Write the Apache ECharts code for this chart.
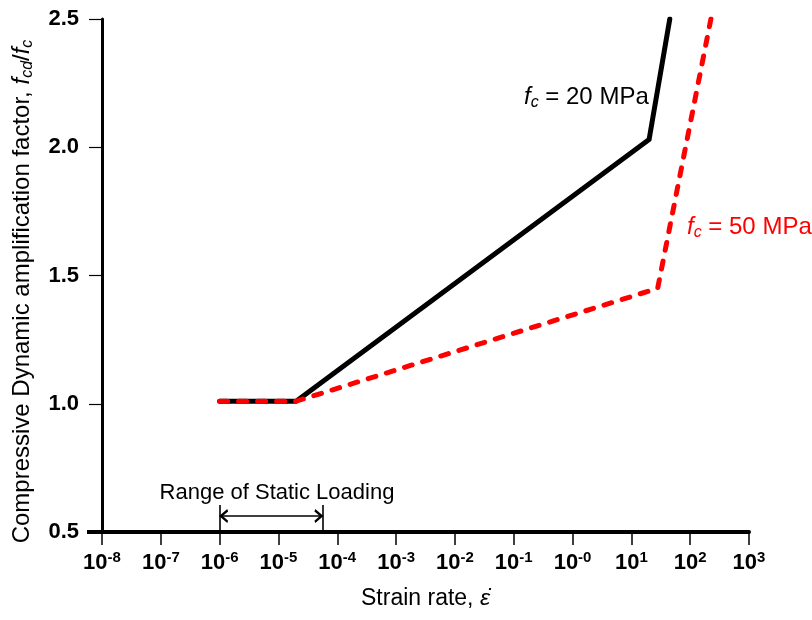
<!DOCTYPE html>
<html><head><meta charset="utf-8">
<script src="https://cdn.jsdelivr.net/npm/echarts@6/dist/echarts.min.js"></script>
<style>html,body{margin:0;padding:0;background:#fff}#c{width:812px;height:620px}</style>
</head><body><div id="c"></div>
<script>
// x ticks: decades (exponents) and their printed superscripts
const xTickExponents = [-8, -7, -6, -5, -4, -3, -2, -1, 0, 1, 2, 3];
const xTickSuper = ['-8', '-7', '-6', '-5', '-4', '-3', '-2', '-1', '-0', '1', '2', '3'];
const yTicks = [0.5, 1.0, 1.5, 2.0, 2.5];
// fc = 20 MPa (solid black)
const rate20 = [1e-6, 2e-5, 20, 45];
const daf20 = [1.01, 1.01, 2.03, 2.5];
// fc = 50 MPa (dashed red)
const rate50 = [1e-6, 2e-5, 28, 225];
const daf50 = [1.01, 1.01, 1.45, 2.5];
// range of static loading
const staticRange = [1e-6, 5.7e-5];
const staticBarTop = 0.605;
const staticArrowY = 0.562;

const FONT = 'Liberation Sans, Arial, Helvetica, sans-serif';
const toXY = (rates, vals) => rates.map((r, i) => [Math.log10(r), vals[i]]);
const chev = 'path://M0,9 L6,0 L12,9 L10,10 L6,4 L2,10 Z';
const lx = Math.log10(staticRange[0]), rx = Math.log10(staticRange[1]);

const chart = echarts.init(document.getElementById('c'), null, {renderer: 'canvas'});
chart.setOption({
  animation: false,
  backgroundColor: '#fff',
  textStyle: {fontFamily: FONT},
  grid: {left: 102, right: 63, top: 19, bottom: 88, containLabel: false},
  xAxis: {
    type: 'value', min: -8, max: 3, interval: 1,
    axisLine: {onZero: false, lineStyle: {color: '#000', width: 4}},
    axisTick: {show: true, length: 13, lineStyle: {color: '#000', width: 1.5}},
    splitLine: {show: false},
    axisLabel: {
      margin: 18, color: '#000',
      formatter: v => '{b|10}{s|' + xTickSuper[xTickExponents.indexOf(Math.round(v))] + '}',
      rich: {
        b: {fontSize: 22, fontWeight: 'bold', fontFamily: FONT, color: '#000', lineHeight: 26},
        s: {fontSize: 15, fontWeight: 'bold', fontFamily: FONT, color: '#000', lineHeight: 15, verticalAlign: 'top'}
      }
    },
    name: '{n|Strain rate, }{e|ε̇}',
    nameLocation: 'middle', nameGap: 54,
    nameTextStyle: {
      rich: {
        n: {fontSize: 23, fontFamily: FONT, color: '#000', lineHeight: 26},
        e: {fontSize: 23, fontFamily: FONT, fontStyle: 'italic', color: '#000', lineHeight: 26}
      }
    }
  },
  yAxis: {
    type: 'value', min: 0.5, max: 2.5, interval: 0.5,
    axisLine: {show: true, onZero: false, lineStyle: {color: '#000', width: 3}},
    axisTick: {show: true, length: 13, lineStyle: {color: '#000', width: 1.2}},
    splitLine: {show: false},
    axisLabel: {
      margin: 23, color: '#000', fontSize: 22, fontWeight: 'bold', fontFamily: FONT,
      formatter: v => yTicks.includes(+v.toFixed(1)) ? v.toFixed(1) : ''
    },
    name: '{n|Compressive Dynamic amplification factor, }{i|f}{s|cd}{n|/}{i|f}{s|c}',
    nameLocation: 'middle', nameGap: 66,
    nameTextStyle: {
      padding: [0, 32, 0, 0],
      rich: {
        n: {fontSize: 24, fontFamily: FONT, color: '#000', lineHeight: 28},
        i: {fontSize: 24, fontFamily: FONT, fontStyle: 'italic', color: '#000', lineHeight: 28},
        s: {fontSize: 16, fontFamily: FONT, fontStyle: 'italic', color: '#000', lineHeight: 16, verticalAlign: 'bottom'}
      }
    }
  },
  series: [
    {
      name: 'fc = 20 MPa', type: 'line', data: toXY(rate20, daf20),
      symbol: 'none', z: 3,
      lineStyle: {color: '#000', width: 5, cap: 'round', join: 'round'}
    },
    {
      name: 'fc = 50 MPa', type: 'line', data: toXY(rate50, daf50),
      symbol: 'none', z: 4,
      lineStyle: {color: '#ff0000', width: 5, type: [8, 11], cap: 'round', join: 'round'}
    },
    {
      name: 'static', type: 'line', data: [[lx, staticArrowY], [rx, staticArrowY]],
      symbol: 'none', lineStyle: {width: 0, opacity: 0}, z: 2,
      markLine: {
        silent: true, animation: false,
        symbol: ['none', 'none'],
        label: {show: false},
        lineStyle: {color: '#000', width: 1.6, type: 'solid'},
        emphasis: {disabled: true},
        data: [
          [{coord: [lx, 0.5]}, {coord: [lx, staticBarTop]}],
          [{coord: [rx, 0.5]}, {coord: [rx, staticBarTop]}],
          [{coord: [lx, staticArrowY], symbol: chev, symbolSize: [14, 9], symbolOffset: [0, 4]},
           {coord: [rx, staticArrowY], symbol: chev, symbolSize: [14, 9], symbolOffset: [0, 4]}]
        ]
      }
    }
  ],
  graphic: [
    {type: 'line', shape: {x1: 87, y1: 532, x2: 102, y2: 532}, style: {stroke: '#000', lineWidth: 4}, z: 10},
    {
      type: 'text', x: 277, y: 493, z: 10,
      style: {text: 'Range of Static Loading', font: '22px ' + FONT, fill: '#000', align: 'center', verticalAlign: 'middle'}
    },
    {
      type: 'text', x: 524, y: 97, z: 10,
      style: {
        text: '{i|f}{s|c}{n| = 20 MPa}', align: 'left', verticalAlign: 'middle',
        rich: {
          i: {font: 'italic 24px ' + FONT, fill: '#000', lineHeight: 28},
          s: {font: 'italic 16px ' + FONT, fill: '#000', lineHeight: 16, verticalAlign: 'bottom'},
          n: {font: '24px ' + FONT, fill: '#000', lineHeight: 28}
        }
      }
    },
    {
      type: 'text', x: 687, y: 227, z: 10,
      style: {
        text: '{i|f}{s|c}{n| = 50 MPa}', align: 'left', verticalAlign: 'middle',
        rich: {
          i: {font: 'italic 24px ' + FONT, fill: '#ff0000', lineHeight: 28},
          s: {font: 'italic 16px ' + FONT, fill: '#ff0000', lineHeight: 16, verticalAlign: 'bottom'},
          n: {font: '24px ' + FONT, fill: '#ff0000', lineHeight: 28}
        }
      }
    }
  ]
});
</script></body></html>
